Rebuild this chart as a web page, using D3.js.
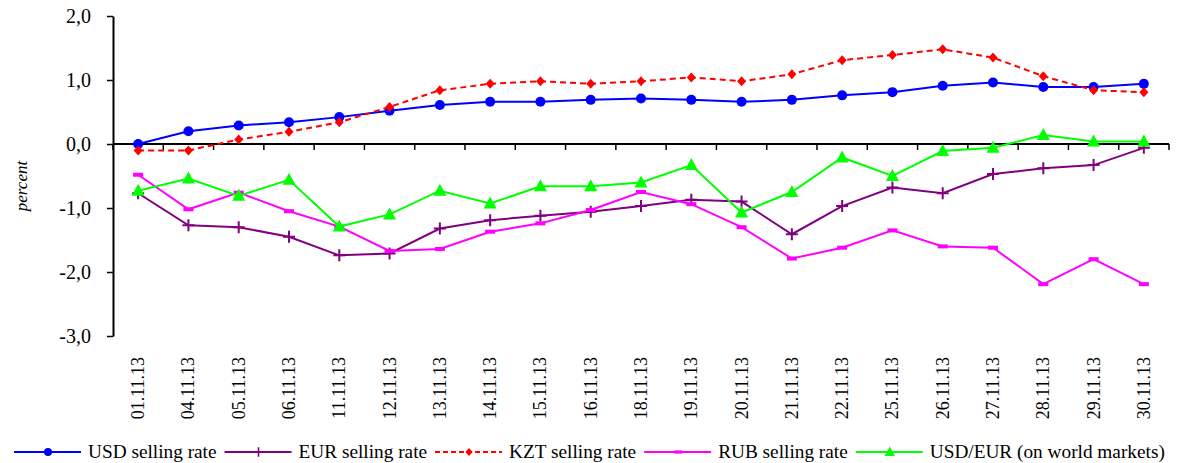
<!DOCTYPE html>
<html>
<head>
<meta charset="utf-8">
<script src="https://cdn.jsdelivr.net/npm/d3@7"></script>
<style>
  body { margin: 0; background: #fff; }
  svg { display: block; font-family: "Liberation Serif", "Times New Roman", serif; }
  .tick-lbl { font-size: 20px; fill: #000; font-family: "Liberation Serif", "Times New Roman", serif; }
  .cat-lbl { font-size: 18px; fill: #000; }
  .legend-text { font-size: 19.3px; fill: #000; }
</style>
</head>
<body>
<svg id="chart" width="1179" height="463"></svg>
<script>
// dates along the x axis
const dates = ["01.11.13", "04.11.13", "05.11.13", "06.11.13", "11.11.13", "12.11.13",
  "13.11.13", "14.11.13", "15.11.13", "16.11.13", "18.11.13", "19.11.13", "20.11.13",
  "21.11.13", "22.11.13", "25.11.13", "26.11.13", "27.11.13", "28.11.13", "29.11.13", "30.11.13"];

const usdRate = [0.00, 0.20, 0.29, 0.34, 0.42, 0.52, 0.61, 0.66, 0.66, 0.69, 0.71, 0.69, 0.66,
  0.69, 0.76, 0.81, 0.91, 0.96, 0.89, 0.89, 0.94];
const eurRate = [-0.77, -1.27, -1.30, -1.45, -1.74, -1.71, -1.32, -1.19, -1.12, -1.06, -0.97, -0.87, -0.90,
  -1.41, -0.97, -0.68, -0.77, -0.47, -0.38, -0.33, -0.06];
const kztRate = [-0.10, -0.10, 0.07, 0.19, 0.34, 0.58, 0.84, 0.94, 0.98, 0.94, 0.98, 1.04, 0.98,
  1.09, 1.31, 1.39, 1.48, 1.35, 1.06, 0.84, 0.81];
const rubRate = [-0.48, -1.02, -0.76, -1.05, -1.29, -1.67, -1.64, -1.37, -1.24, -1.03, -0.75, -0.94, -1.30,
  -1.79, -1.62, -1.35, -1.60, -1.62, -2.19, -1.80, -2.19];
const usdEurWorld = [-0.73, -0.54, -0.81, -0.56, -1.29, -1.10, -0.73, -0.93, -0.66, -0.66, -0.60, -0.33, -1.07,
  -0.75, -0.21, -0.50, -0.11, -0.06, 0.14, 0.04, 0.04];

const yTicks = [-3, -2, -1, 0, 1, 2];

const seriesList = [
  { name: "USD selling rate", values: usdRate, color: "#0000ff", marker: "circle" },
  { name: "EUR selling rate", values: eurRate, color: "#800080", marker: "plus" },
  { name: "KZT selling rate", values: kztRate, color: "#ff0000", marker: "diamond", dash: "6,4" },
  { name: "RUB selling rate", values: rubRate, color: "#ff00ff", marker: "dash" },
  { name: "USD/EUR (on world markets)", values: usdEurWorld, color: "#00ff00", marker: "triangle" },
];

const svg = d3.select("#chart");
const plot = { left: 113, right: 1169, top: 16, bottom: 336 };

const x = d3.scaleBand().domain(dates).range([plot.left, plot.right]).padding(0);
const y = d3.scaleLinear().domain([-3, 2]).range([plot.bottom, plot.top]);
const cx = (d) => x(d) + x.bandwidth() / 2;

// y axis
const yAxis = svg.append("g")
  .attr("transform", `translate(${plot.left},0)`)
  .call(d3.axisLeft(y).tickValues(yTicks).tickSize(6).tickSizeOuter(0)
    .tickFormat((d) => d.toFixed(1).replace(".", ",")));
yAxis.attr("font-family", null).attr("font-size", null);
yAxis.select(".domain").attr("stroke", "#000").attr("stroke-width", 2);
yAxis.selectAll(".tick line").attr("stroke", "#000").attr("stroke-width", 1.5);
yAxis.selectAll(".tick text").attr("class", "tick-lbl").attr("x", -22);

// x axis on zero line, ticks between categories
const y0 = y(0);
svg.append("line")
  .attr("x1", plot.left).attr("x2", plot.right)
  .attr("y1", y0).attr("y2", y0)
  .attr("stroke", "#000").attr("stroke-width", 2);

const bounds = dates.map((d) => x(d)).concat([plot.right]);
svg.append("g").selectAll("line").data(bounds).join("line")
  .attr("x1", (d) => d).attr("x2", (d) => d)
  .attr("y1", y0).attr("y2", y0 + 6)
  .attr("stroke", "#000").attr("stroke-width", 1.5);

svg.append("g").selectAll("text").data(dates).join("text")
  .attr("class", "cat-lbl")
  .attr("transform", (d) => `translate(${cx(d)},357) rotate(-90)`)
  .attr("text-anchor", "end")
  .attr("dy", "0.33em")
  .text((d) => d);

svg.append("text")
  .attr("transform", "translate(21,186) rotate(-90)")
  .attr("text-anchor", "middle")
  .attr("dy", "0.33em")
  .attr("font-size", 17)
  .attr("font-style", "italic")
  .text("percent");

// marker drawing
function drawMarker(sel, type, color) {
  if (type === "circle") {
    sel.append("circle").attr("r", 5).attr("fill", color);
  } else if (type === "diamond") {
    sel.append("path").attr("d", "M0,-5L4.5,0L0,5L-4.5,0Z").attr("fill", color);
  } else if (type === "triangle") {
    sel.append("path").attr("d", "M0,-7L6.5,5L-6.5,5Z").attr("fill", color);
  } else if (type === "plus") {
    sel.append("path").attr("d", "M-6,0H6M0,-6V6").attr("stroke", color).attr("stroke-width", 2);
  } else if (type === "dash") {
    sel.append("rect").attr("x", -5).attr("y", -2).attr("width", 10).attr("height", 4).attr("fill", color);
  }
}

const line = d3.line().x((d, i) => cx(dates[i])).y((d) => y(d));

seriesList.forEach((s) => {
  const g = svg.append("g");
  g.append("path")
    .attr("d", line(s.values))
    .attr("fill", "none")
    .attr("stroke", s.color)
    .attr("stroke-width", 2)
    .attr("stroke-dasharray", s.dash || null);
  g.selectAll("g.mk").data(s.values).join("g")
    .attr("class", "mk")
    .attr("transform", (d, i) => `translate(${cx(dates[i])},${y(d)})`)
    .each(function () { drawMarker(d3.select(this), s.marker, s.color); });
});

// legend
const legend = svg.append("g").attr("transform", "translate(0,452)");
let lx = 14;
seriesList.forEach((s) => {
  const item = legend.append("g").attr("transform", `translate(${lx},0)`);
  item.append("line").attr("x1", 0).attr("x2", 67)
    .attr("stroke", s.color).attr("stroke-width", 2)
    .attr("stroke-dasharray", s.dash ? "5,3" : null);
  const mk = item.append("g");
  drawMarker(mk, s.marker, s.color);
  mk.attr("transform", "translate(34,0) scale(0.8)");
  const t = item.append("text").attr("class", "legend-text")
    .attr("x", 74).attr("dy", "0.33em").text(s.name);
  lx += 74 + t.node().getComputedTextLength() + 8;
});
</script>
</body>
</html>
